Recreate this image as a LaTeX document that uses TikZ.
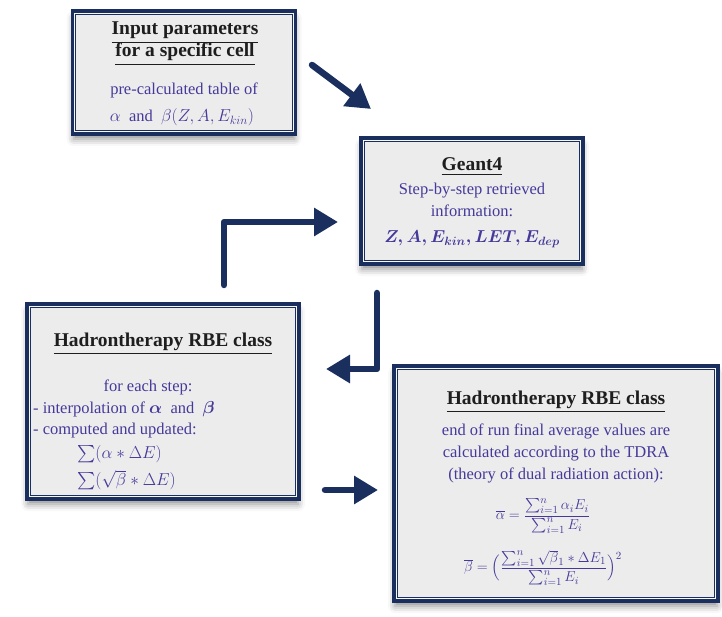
\documentclass[tikz,border=0pt]{standalone}
\usepackage{fontspec}
\setmainfont{Liberation Serif}
\usepackage{amsmath}
\usetikzlibrary{arrows.meta,shadows.blur}
\definecolor{navy}{HTML}{1B2F5E}
\definecolor{boxgray}{HTML}{ECECEC}
\definecolor{bodyblue}{HTML}{45399A}
\definecolor{titleblack}{HTML}{1E1E1E}
\tikzset{
  box/.style={draw=navy, line width=5.5pt, fill=boxgray,
    blur shadow={shadow xshift=0pt, shadow yshift=-6pt, shadow blur radius=7pt, shadow opacity=45},
    inner sep=0pt},
  inner/.style={draw=white!60!boxgray, line width=0.6pt},
  ttl/.style={text=titleblack, font=\fontsize{19.5}{22}\selectfont\bfseries, anchor=base, inner sep=0pt},
  bdy/.style={text=bodyblue, font=\fontsize{16.5}{20}\selectfont, anchor=base, inner sep=0pt},
  frm/.style={text=bodyblue, font=\fontsize{15}{18}\selectfont, anchor=center, inner sep=0pt},
  flow/.style={draw=navy, line width=6.5pt, line cap=round, line join=round,
    -{Triangle[length=24pt,width=27pt]}},
}
\begin{document}
\begin{tikzpicture}[x=1pt,y=-1pt]
\useasboundingbox (0,0) rectangle (722,617);
% boxes
\node[box, minimum width=221pt, minimum height=121pt] (b1) at (184,72.5) {};
\node[box, minimum width=220pt, minimum height=124pt] (b2) at (472,201) {};
\node[box, minimum width=270pt, minimum height=193pt] (b3) at (163,401.5) {};
\node[box, minimum width=322pt, minimum height=233pt] (b4) at (556,483.5) {};
\foreach \b in {b1,b2,b3,b4}{
  \draw[inner] ([shift={(4pt,-4pt)}]\b.north west) rectangle ([shift={(-4pt,4pt)}]\b.south east);
}
% box 1 text
\node[ttl] (t1a) at (185,35) {\underline{Input parameters}};
\node[ttl] (t1b) at (185,57) {\underline{for a specific cell}};
\node[bdy] (t1c) at (184,95) {pre-calculated table of};
\node[bdy] (t1d) at (182,122) {$\alpha$ \ and \ $\beta(Z,A,E_{kin})$};
% box 2 text
\node[ttl] (t2a) at (472,171) {\underline{Geant4}};
\node[bdy] (t2b) at (472,195) {Step-by-step retrieved};
\node[bdy] (t2c) at (472,217) {information:};
\node[bdy] (t2d) at (472,243) {$\boldsymbol{Z, A, E_{kin}, LET, E_{dep}}$};
% box 3 text
\node[ttl] (t3a) at (163,346) {\underline{Hadrontherapy RBE class}};
\node[bdy] (t3b) at (148,391) {for each step:};
\node[bdy, anchor=base west] (t3c) at (33,413) {- interpolation of $\boldsymbol{\alpha}$ \ and \ $\boldsymbol{\beta}$};
\node[bdy, anchor=base west] (t3d) at (33,434) {- computed and updated:};
\node[bdy, anchor=base west] (t3e) at (77,458) {$\sum(\alpha*\Delta E)$};
\node[bdy, anchor=base west] (t3f) at (77,485) {$\sum(\sqrt{\beta}*\Delta E)$};
% box 4 text
\node[ttl] (t4a) at (556,404) {\underline{Hadrontherapy RBE class}};
\node[bdy] (t4b) at (556,435) {end of run final average values are};
\node[bdy] (t4c) at (556,457) {calculated according to the TDRA};
\node[bdy] (t4d) at (556,479) {(theory of dual radiation action):};
\node[frm] (t4e) at (543,516) {$\overline{\alpha}=\dfrac{\sum_{i=1}^{n}\alpha_iE_i}{\sum_{i=1}^{n}E_i}$};
\node[frm] (t4f) at (543,568) {$\overline{\beta}=\Bigl(\dfrac{\sum_{i=1}^{n}\sqrt{\beta}_1*\Delta E_1}{\sum_{i=1}^{n}E_i}\Bigr)^2$};
% arrow end points
\coordinate (a1s) at (312,65);
\coordinate (a1e) at (371,109);
\coordinate (a2s) at (224,285);
\coordinate (a2m) at (224,222);
\coordinate (a2e) at (338,222);
\coordinate (a3s) at (377,293);
\coordinate (a3m) at (377,369);
\coordinate (a3e) at (326,369);
\coordinate (a4s) at (325,490);
\coordinate (a4e) at (378,490);
\draw[flow] (a1s) -- (a1e);
\draw[flow] (a2s) -- (a2m) -- (a2e);
\draw[flow] (a3s) -- (a3m) -- (a3e);
\draw[flow] (a4s) -- (a4e);
\end{tikzpicture}
\end{document}
